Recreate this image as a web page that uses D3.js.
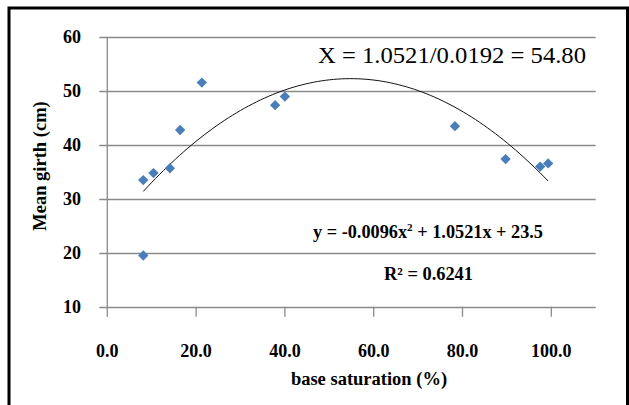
<!DOCTYPE html>
<html>
<head>
<meta charset="utf-8">
<script src="https://cdn.jsdelivr.net/npm/d3@7"></script>
<style>
html,body{margin:0;padding:0;background:#fff;}
svg{display:block;}
</style>
</head>
<body>
<svg id="chart" width="629" height="405"></svg>
<script>
// Data
const baseSaturation = [8.1, 8.1, 10.4, 14.1, 16.4, 21.3, 37.8, 40.0, 78.3, 89.7, 97.5, 99.3];
const meanGirth      = [33.5, 19.5, 34.8, 35.7, 42.8, 51.6, 47.4, 49.0, 43.5, 37.4, 36.0, 36.6];
// Fitted trend: y = a x^2 + b x + c
const trendCoef = [-0.0096, 1.0521, 23.5];
const xTicks = [0, 20, 40, 60, 80, 100];
const yTicks = [10, 20, 30, 40, 50, 60];
const xTitle = "base saturation (%)";
const yTitle = "Mean girth (cm)";
const annotX = "X = 1.0521/0.0192 = 54.80";
const annotR2 = "R² = 0.6241";

(function () {
const svg = d3.select("#chart");
const serif = "'Liberation Serif','Times New Roman',serif";

// outer frame
svg.append("rect").attr("x", 9).attr("y", 8).attr("width", 618.5).attr("height", 420)
  .attr("fill", "none").attr("stroke", "#000").attr("stroke-width", 3);

const pLeft = 107.3, pRight = 595.7, pTop = 37.3, pBottom = 306.7;
const x = d3.scaleLinear().domain([0, 110]).range([pLeft, pRight]);
const y = d3.scaleLinear().domain([10, 60]).range([pBottom, pTop]);

const gridColor = "#8a8a8a";

// horizontal gridlines with outward ticks
svg.append("g").selectAll("line").data(yTicks).join("line")
  .attr("x1", pLeft - 8).attr("x2", pRight)
  .attr("y1", d => Math.round(y(d)) + 0.5).attr("y2", d => Math.round(y(d)) + 0.5)
  .attr("stroke", gridColor).attr("stroke-width", 1.3);

// y axis line
svg.append("line").attr("x1", pLeft).attr("x2", pLeft).attr("y1", pTop).attr("y2", pBottom + 10)
  .attr("stroke", gridColor).attr("stroke-width", 1.3);

// x ticks
svg.append("g").selectAll("line").data(xTicks.filter(d => d > 0)).join("line")
  .attr("x1", d => x(d)).attr("x2", d => x(d)).attr("y1", pBottom).attr("y2", pBottom + 10)
  .attr("stroke", gridColor).attr("stroke-width", 1.3);

// y tick labels
svg.append("g").selectAll("text").data(yTicks).join("text")
  .attr("x", 81).attr("y", d => y(d) + 6)
  .attr("text-anchor", "end").attr("font-family", serif).attr("font-weight", "bold")
  .attr("font-size", 18).text(d => d);

// x tick labels
svg.append("g").selectAll("text").data(xTicks).join("text")
  .attr("x", d => x(d)).attr("y", 357)
  .attr("text-anchor", "middle").attr("font-family", serif).attr("font-weight", "bold")
  .attr("font-size", 18).text(d => d.toFixed(1));

// axis titles
svg.append("text").attr("x", 369).attr("y", 385).attr("text-anchor", "middle")
  .attr("font-family", serif).attr("font-weight", "bold").attr("font-size", 18.5).text(xTitle);
svg.append("text").attr("transform", "translate(46,166) rotate(-90)").attr("text-anchor", "middle")
  .attr("font-family", serif).attr("font-weight", "bold").attr("font-size", 18.5).text(yTitle);

// trend line
const xmin = d3.min(baseSaturation), xmax = d3.max(baseSaturation);
const xs = d3.range(0, 101).map(i => xmin + (xmax - xmin) * i / 100);
const f = v => trendCoef[0] * v * v + trendCoef[1] * v + trendCoef[2];
svg.append("path").datum(xs)
  .attr("d", d3.line().x(d => x(d)).y(d => y(f(d))))
  .attr("fill", "none").attr("stroke", "#111").attr("stroke-width", 1);

// points
const pts = baseSaturation.map((v, i) => [v, meanGirth[i]]);
svg.append("g").selectAll("path").data(pts).join("path")
  .attr("d", d3.symbol().type(d3.symbolDiamond2).size(68))
  .attr("transform", d => `translate(${x(d[0])},${y(d[1])})`)
  .attr("fill", "#4a7ebb");

// annotations
svg.append("text").attr("x", 318).attr("y", 63).attr("font-family", serif)
  .attr("font-size", 24).attr("textLength", 268).attr("lengthAdjust", "spacingAndGlyphs").text(annotX);

const eq = svg.append("text").attr("x", 313).attr("y", 238).attr("font-family", serif)
  .attr("font-weight", "bold").attr("font-size", 18)
  .attr("textLength", 230).attr("lengthAdjust", "spacingAndGlyphs");
eq.append("tspan").text("y = -0.0096x");
eq.append("tspan").attr("dy", -7).attr("font-size", 11).text("2");
eq.append("tspan").attr("dy", 7).text(" + 1.0521x + 23.5");

svg.append("text").attr("x", 384).attr("y", 280).attr("font-family", serif)
  .attr("font-weight", "bold").attr("font-size", 18)
  .attr("textLength", 89).attr("lengthAdjust", "spacingAndGlyphs").text(annotR2);
})();
</script>
</body>
</html>
